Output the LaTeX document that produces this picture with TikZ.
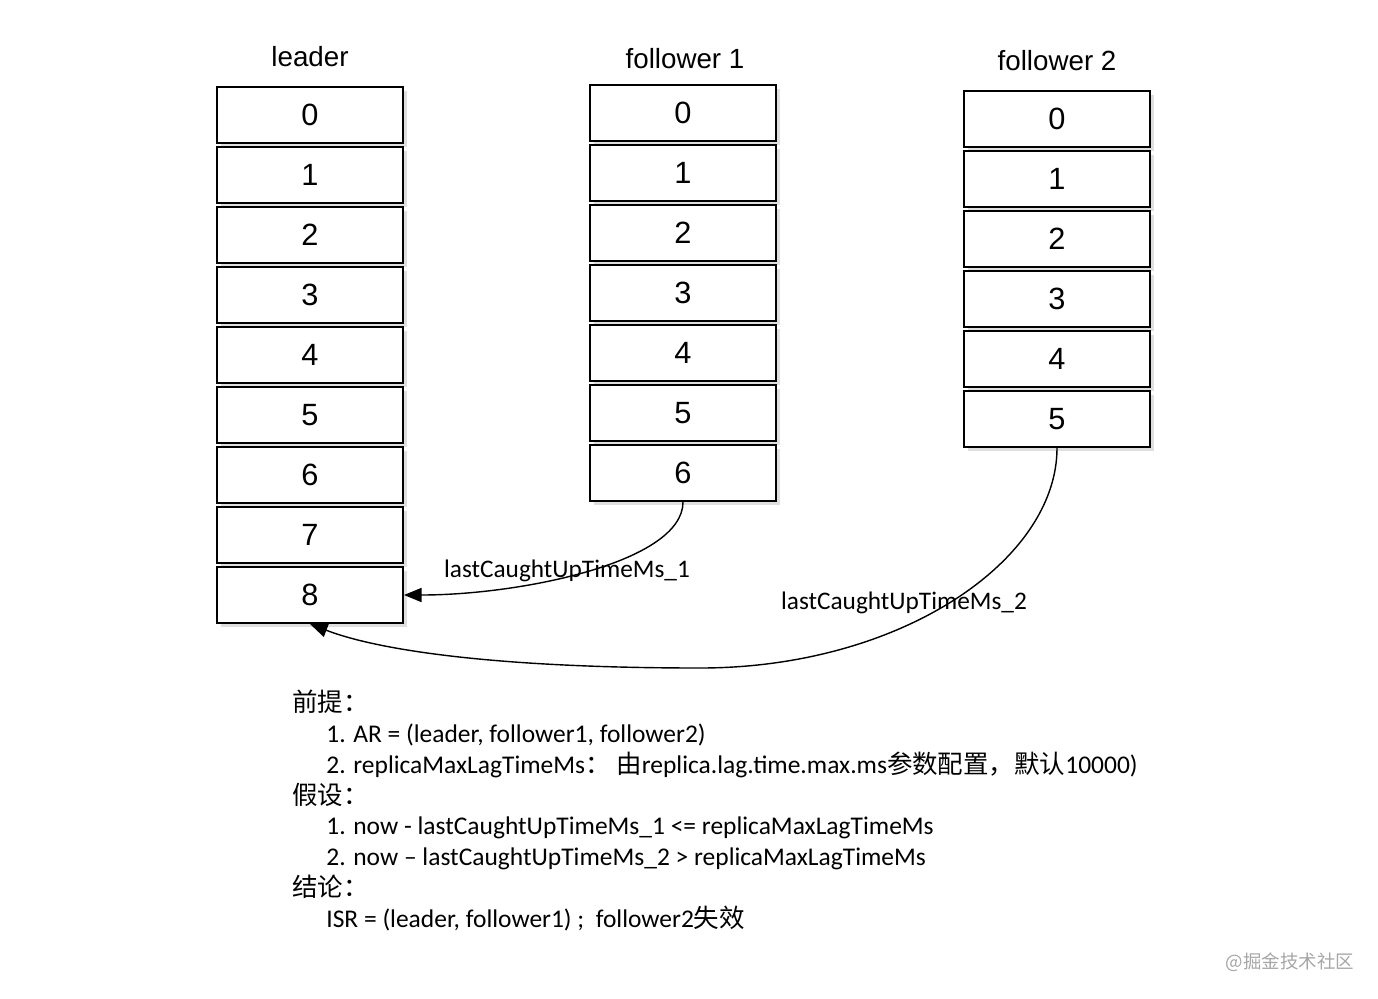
\documentclass[tikz,border=0pt]{standalone}
\usepackage{fontspec}
\setmainfont{Carlito}
\newfontfamily\arialfont{Liberation Sans}
\newfontfamily\cjk{Noto Sans CJK SC}
\usetikzlibrary{arrows.meta,shadows}

\tikzset{
  slot/.style={draw, line width=1.1pt, fill=white, minimum width=3.72cm, minimum height=1.12cm, inner sep=0pt,
    font=\arialfont\fontsize{17.5}{20}\selectfont,
    drop shadow={shadow xshift=2pt, shadow yshift=-2pt, opacity=0.25}},
  title/.style={font=\arialfont\fontsize{15.8}{18}\selectfont},
  lag/.style={font=\fontsize{14.4}{17}\selectfont},
  note/.style={anchor=base west, inner sep=0pt, font=\fontsize{14.5}{17}\selectfont},
  catchup/.style={-{Triangle[length=10pt,width=8pt]}, line width=0.8pt}
}

\begin{document}
\begin{tikzpicture}[x=0.02cm, y=-0.02cm]
\useasboundingbox (0,0) rectangle (1378,998);
% log entries of the three replicas
\foreach \i in {0,...,8} \node[slot] (l-\i) at (310,115+60*\i) {\i};
\foreach \i in {0,...,6} \node[slot] (fa-\i) at (683,113+60*\i) {\i};
\foreach \i in {0,...,5} \node[slot] (fb-\i) at (1057,119+60*\i) {\i};
\node[title] (leader) at (310,57) {leader};
\node[title] (follower-a) at (685,59) {follower 1};
\node[title] (follower-b) at (1057,61) {follower 2};
% catch-up arrows
\coordinate (dip) at (700,668);
\draw[catchup] (fa-6.south) .. controls +(0,60) and +(117,0) .. (l-8.east);
\draw[catchup] (fb-5.south) .. controls +(0,113) and +(200,0) .. (dip) .. controls +(-200,0) and +(70,27) .. (l-8.south);
\node[lag] (lag-a) at (567,571) {lastCaughtUpTimeMs\_1};
\node[lag] (lag-b) at (904,603) {lastCaughtUpTimeMs\_2};
% notes
\node[note] (pre) at (292,711) {{\cjk 前提：}};
\node[note] (pre-1) at (326,742) {1. AR = (leader, follower1, follower2)};
\node[note] (pre-2) at (326,773) {2. replicaMaxLagTimeMs{\cjk ：}\ {\cjk 由}replica.lag.time.max.ms{\cjk 参数配置，默认}10000)};
\node[note] (assume) at (292,804) {{\cjk 假设：}};
\node[note] (assume-1) at (326,834) {1. now - lastCaughtUpTimeMs\_1 <= replicaMaxLagTimeMs};
\node[note] (assume-2) at (326,865) {2. now – lastCaughtUpTimeMs\_2 > replicaMaxLagTimeMs};
\node[note] (concl) at (292,896) {{\cjk 结论：}};
\node[note] (concl-1) at (326,927) {ISR = (leader, follower1) ;\ \ follower2{\cjk 失效}};
\node[font=\cjk\fontsize{10.5}{12}\selectfont, text=black!35] (mark) at (1290,962) {@掘金技术社区};
\end{tikzpicture}
\end{document}
